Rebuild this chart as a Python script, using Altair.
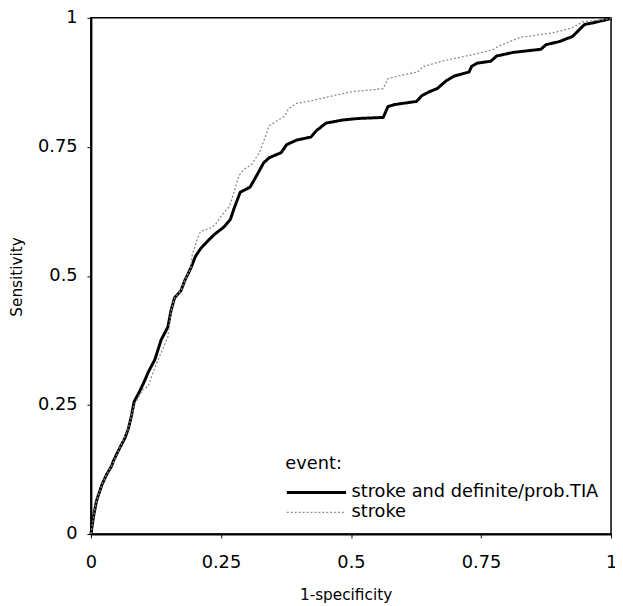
import altair as alt
import pandas as pd

# "stroke and definite/prob.TIA" ROC curve (1-specificity, sensitivity)
tia_x = [0.0, 0.005, 0.011, 0.021, 0.030, 0.040, 0.043, 0.055, 0.065, 0.072, 0.078, 0.083, 0.093, 0.102,
         0.110, 0.123, 0.135, 0.148, 0.154, 0.161, 0.173, 0.180, 0.192, 0.201, 0.211, 0.224, 0.237,
         0.256, 0.268, 0.275, 0.287, 0.306, 0.319, 0.332, 0.343, 0.366, 0.376, 0.395, 0.423, 0.433,
         0.452, 0.484, 0.514, 0.562, 0.571, 0.584, 0.626, 0.636, 0.651, 0.666, 0.683, 0.698, 0.727,
         0.732, 0.742, 0.769, 0.780, 0.812, 0.865, 0.875, 0.901, 0.926, 0.939, 0.949, 0.964, 0.998, 1.0]
tia_y = [0.0, 0.034, 0.065, 0.095, 0.115, 0.132, 0.141, 0.166, 0.185, 0.204, 0.229, 0.256, 0.275, 0.294,
         0.313, 0.338, 0.376, 0.401, 0.433, 0.458, 0.471, 0.490, 0.515, 0.538, 0.553, 0.567, 0.580,
         0.595, 0.609, 0.630, 0.662, 0.672, 0.695, 0.719, 0.729, 0.739, 0.754, 0.763, 0.769, 0.781,
         0.796, 0.802, 0.805, 0.807, 0.828, 0.832, 0.838, 0.849, 0.857, 0.863, 0.878, 0.887, 0.895,
         0.906, 0.912, 0.916, 0.926, 0.933, 0.939, 0.948, 0.954, 0.964, 0.977, 0.987, 0.990, 0.998, 1.0]

# "stroke" ROC curve
stroke_x = [0.0, 0.005, 0.011, 0.021, 0.030, 0.040, 0.055, 0.072, 0.083, 0.100, 0.110, 0.125, 0.148,
            0.154, 0.161, 0.173, 0.180, 0.192, 0.195, 0.205, 0.211, 0.228, 0.239, 0.252, 0.266, 0.271,
            0.285, 0.294, 0.309, 0.324, 0.338, 0.342, 0.357, 0.372, 0.380, 0.395, 0.427, 0.465, 0.503,
            0.546, 0.562, 0.571, 0.598, 0.628, 0.638, 0.674, 0.736, 0.774, 0.784, 0.825, 0.888, 0.926,
            0.945, 0.998, 1.0]
stroke_y = [0.0, 0.034, 0.065, 0.095, 0.115, 0.132, 0.166, 0.204, 0.250, 0.280, 0.286, 0.328, 0.382,
            0.433, 0.458, 0.471, 0.490, 0.515, 0.542, 0.573, 0.586, 0.592, 0.599, 0.618, 0.634, 0.649,
            0.695, 0.706, 0.716, 0.739, 0.777, 0.790, 0.800, 0.809, 0.824, 0.834, 0.840, 0.849, 0.857,
            0.861, 0.863, 0.882, 0.889, 0.895, 0.905, 0.916, 0.929, 0.939, 0.945, 0.962, 0.971, 0.981,
            0.992, 0.998, 1.0]

series = ["stroke and definite/prob.TIA", "stroke"]
ticks = [0, 0.25, 0.5, 0.75, 1]

rows = []
for i, (x, y) in enumerate(zip(tia_x, tia_y)):
    rows.append({"fpr": x, "sens": y, "event": series[0], "order": i})
for i, (x, y) in enumerate(zip(stroke_x, stroke_y)):
    rows.append({"fpr": x, "sens": y, "event": series[1], "order": i})
df = pd.DataFrame(rows)

FONT = "DejaVu Sans"
LBL = "datum.value == 0 ? '0' : datum.value == 1 ? '1' : format(datum.value, '.2~f')"

chart = alt.Chart(df).mark_line(strokeJoin="round").encode(
    x=alt.X("fpr:Q", scale=alt.Scale(domain=[0, 1], nice=False),
            axis=alt.Axis(values=ticks, title="1-specificity", grid=False, labelExpr=LBL,
                          labelFlush=False, labelPadding=16,
                          titleX=258, titleY=66, titleBaseline="alphabetic")),
    y=alt.Y("sens:Q", scale=alt.Scale(domain=[0, 1], nice=False),
            axis=alt.Axis(values=ticks, title="Sensitivity", grid=False, labelExpr=LBL,
                          labelFlush=False, labelPadding=10,
                          titleX=-70, titleY=262, titleBaseline="alphabetic")),
    color=alt.Color("event:N", scale=alt.Scale(domain=series, range=["#000000", "#8c8c8c"]),
                    legend=alt.Legend(title="event:", orient="none", legendX=197, legendY=443,
                                      symbolType="stroke", symbolSize=3600, labelFontSize=18,
                                      titleFontSize=18, titleFont=FONT, labelFont=FONT,
                                      titleFontWeight="normal", clipHeight=20, rowPadding=0,
                                      titlePadding=10, labelOffset=4, labelLimit=500,
                                      labelColor="#000000", titleColor="#000000")),
    strokeWidth=alt.StrokeWidth("event:N", scale=alt.Scale(domain=series, range=[3, 1.3]), legend=None),
    strokeDash=alt.StrokeDash("event:N", scale=alt.Scale(domain=series, range=[[1, 0], [2, 2]]), legend=None),
    order="order:Q",
).properties(
    width=527, height=523,
    autosize=alt.AutoSizeParams(type="none"),
    padding={"left": 84, "top": 6, "right": 4, "bottom": 69},
).configure_view(
    stroke="#000000", strokeWidth=1.5
).configure_axis(
    domainColor="#000000", domainWidth=2, tickColor="#000000", tickSize=4,
    labelFont=FONT, labelFontSize=18, labelColor="#000000",
    titleFont=FONT, titleFontSize=15.5, titleColor="#000000", titleFontWeight="normal",
)

chart.save("out.html", embed_options={"renderer": "svg", "actions": False})
